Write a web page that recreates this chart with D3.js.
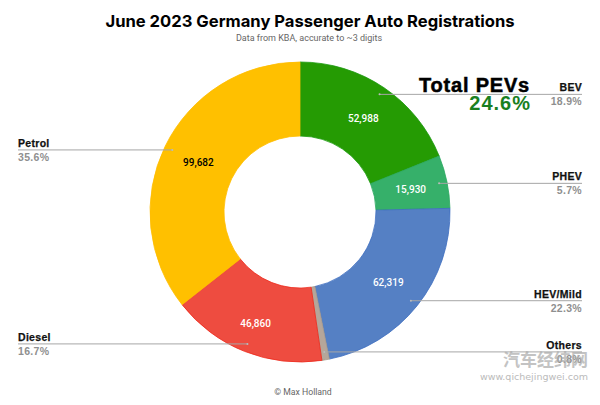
<!DOCTYPE html>
<html>
<head>
<meta charset="utf-8">
<script src="https://cdn.jsdelivr.net/npm/d3@7"></script>
<style>
html, body { margin: 0; padding: 0; background: #fff; }
svg { display: block; }
</style>
</head>
<body>
<svg id="chart" width="600" height="405"></svg>
<script>
// values, clockwise from 12 o'clock
var categories = ["BEV", "PHEV", "HEV/Mild", "Others", "Diesel", "Petrol"];
var registrations = [52988, 15930, 62319, 2240, 46860, 99682];
var valueLabels = ["52,988", "15,930", "62,319", "", "46,860", "99,682"];
var shareLabels = ["18.9%", "5.7%", "22.3%", "0.8%", "16.7%", "35.6%"];
var sliceColors = ["#259b03", "#36b06a", "#5580c4", "#b5a69a", "#ee4c40", "#ffc000"];
var edgeColors = ["#1c9a10", "#2aa860", "#3f6fc0", "#a89a8c", "#ee2a1c", "#ffbc00"];
var valueColors = ["#fff", "#fff", "#fff", "#fff", "#fff", "#000"];

var width = 600, height = 405;
var cx = 300, cy = 212;
var outerR = 150, innerR = 76, dotR = 142;
var lineLeft = 18, lineRight = 582;

var svg = d3.select("#chart");

svg.append("text")
   .attr("x", 310).attr("y", 27)
   .attr("text-anchor", "middle")
   .style("font", "700 16.6px Inter, Roboto, sans-serif")
   .style("fill", "#000")
   .text("June 2023 Germany Passenger Auto Registrations");

svg.append("text")
   .attr("x", 309).attr("y", 41)
   .attr("text-anchor", "middle")
   .style("font", "9px Roboto, sans-serif")
   .style("fill", "#666")
   .text("Data from KBA, accurate to ~3 digits");

var pie = d3.pie().sort(null).value(function(d) { return d.value; });
var arc = d3.arc().innerRadius(innerR).outerRadius(outerR);
var dotArc = d3.arc().innerRadius(dotR).outerRadius(dotR);
// the Diesel number sits a bit further out than the ring's middle
var dieselArc = d3.arc().innerRadius(120).outerRadius(120);

var data = categories.map(function(c, i) {
    return {
        name: c,
        value: registrations[i],
        label: valueLabels[i],
        share: shareLabels[i],
        color: sliceColors[i],
        edge: edgeColors[i],
        textColor: valueColors[i]
    };
});

var g = svg.append("g").attr("transform", "translate(" + cx + "," + cy + ")");
var slices = pie(data);

g.selectAll("path.slice")
 .data(slices)
 .enter().append("path")
 .attr("class", "slice")
 .attr("d", arc)
 .attr("fill", function(d) { return d.data.color; })
 .attr("stroke", function(d) { return d.data.edge; })
 .attr("stroke-width", 0.8);

// leader lines run from a dot near the rim out to the page edge
slices.forEach(function(d) {
    var p = dotArc.centroid(d);
    var isRight = (d.startAngle + d.endAngle) / 2 < Math.PI;
    var xEnd = (isRight ? lineRight : lineLeft) - cx;

    g.append("line")
     .attr("x1", p[0]).attr("y1", p[1])
     .attr("x2", xEnd).attr("y2", p[1])
     .attr("stroke", "#a6a6a6")
     .attr("stroke-width", 1);

    g.append("circle")
     .attr("cx", p[0]).attr("cy", p[1])
     .attr("r", 1)
     .attr("fill", "#bbb");

    g.append("text")
     .attr("x", xEnd).attr("y", p[1] - 3)
     .attr("text-anchor", isRight ? "end" : "start")
     .style("font", "bold 10.5px 'Liberation Sans', Arial, sans-serif")
     .style("letter-spacing", "0.3px")
     .style("fill", "#111")
     .style("stroke", "#111")
     .style("stroke-width", 0.25)
     .text(d.data.name);

    g.append("text")
     .attr("x", xEnd).attr("y", p[1] + 11)
     .attr("text-anchor", isRight ? "end" : "start")
     .style("font", "bold 10.5px 'Liberation Sans', Arial, sans-serif")
     .style("letter-spacing", "0.3px")
     .style("fill", "#8f8f8f")
     .text(d.data.share);

    if (d.data.label) {
        var c = d.data.name === "Diesel" ? dieselArc.centroid(d) : arc.centroid(d);
        g.append("text")
         .attr("x", c[0]).attr("y", c[1] + 3.5)
         .attr("text-anchor", "middle")
         .style("font", "500 10px Roboto, sans-serif")
         .style("fill", d.data.textColor)
         .text(d.data.label);
    }
});

svg.append("text")
   .attr("x", 530).attr("y", 92)
   .attr("text-anchor", "end")
   .style("font", "bold 20px 'Liberation Sans', Arial, sans-serif")
   .style("letter-spacing", "0.8px")
   .style("fill", "#000")
   .style("stroke", "#000")
   .style("stroke-width", 0.5)
   .text("Total PEVs");

svg.append("text")
   .attr("x", 531).attr("y", 110)
   .attr("text-anchor", "end")
   .style("font", "bold 20px 'Liberation Sans', Arial, sans-serif")
   .style("letter-spacing", "1px")
   .style("fill", "#1a7f1f")
   .text("24.6%");

svg.append("text")
   .attr("x", 303).attr("y", 395)
   .attr("text-anchor", "middle")
   .style("font", "8.7px Roboto, sans-serif")
   .style("fill", "#666")
   .text("© Max Holland");

// watermark, bottom right
svg.append("text")
   .attr("x", 588).attr("y", 366)
   .attr("text-anchor", "end")
   .style("font", "bold 17px 'Noto Sans CJK SC', sans-serif")
   .style("fill", "#aaa")
   .style("opacity", 0.7)
   .text("汽车经纬网");

svg.append("text")
   .attr("x", 588).attr("y", 380)
   .attr("text-anchor", "end")
   .style("font", "9.5px 'DejaVu Sans', sans-serif")
   .style("fill", "#bbb")
   .text("www.qichejingwei.com");
</script>
</body>
</html>
